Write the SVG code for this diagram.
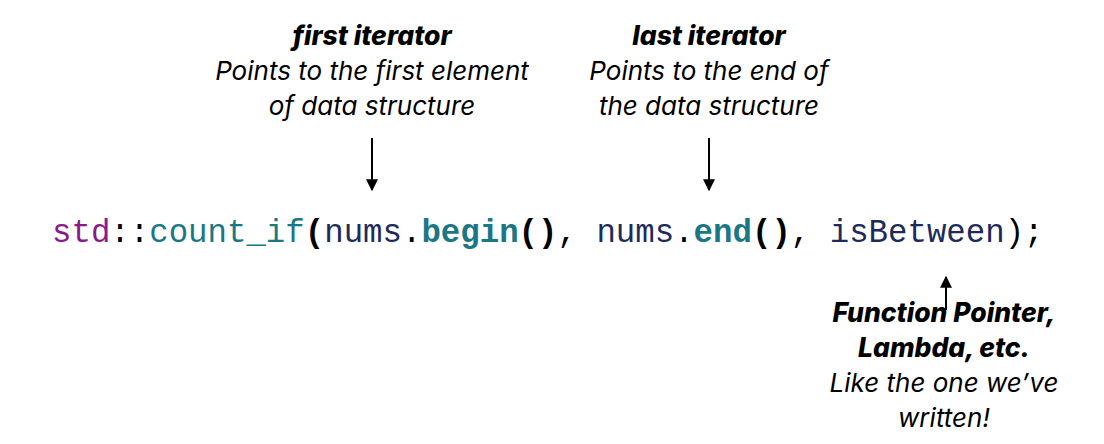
<svg xmlns="http://www.w3.org/2000/svg" width="1104" height="444" viewBox="0 0 1104 444">
<style>
.t{font-family:Inter,"Open Sans",sans-serif;font-size:26px;font-style:italic;fill:#000;text-anchor:middle}
.b{font-weight:800;font-size:26.5px}
.code{font-family:"Liberation Mono","Courier New",monospace;font-size:32.4px}
.ns{fill:#8a1a88}
.fn{fill:#1b7785}
.var{fill:#1d2b5c}
.p{fill:#000}
.bo{font-weight:700}
.arr{stroke:#000;stroke-width:2;fill:none;marker-end:url(#ah)}
</style>
<defs>
<marker id="ah" viewBox="0 0 10 10" refX="9" refY="5" markerWidth="6" markerHeight="6" orient="auto" markerUnits="strokeWidth">
<path d="M0,0 L10,5 L0,10 z" fill="#000"/>
</marker>
</defs>
<rect width="1104" height="444" fill="#fff"/>
<g id="code">
<text class="code" x="52" y="242" xml:space="preserve"><tspan class="ns">std</tspan><tspan class="p">::</tspan><tspan class="fn">count_if</tspan><tspan class="p bo">(</tspan><tspan class="var">nums</tspan><tspan class="p">.</tspan><tspan class="fn bo">begin</tspan><tspan class="p bo">()</tspan><tspan class="p">, </tspan><tspan class="var">nums</tspan><tspan class="p">.</tspan><tspan class="fn bo">end</tspan><tspan class="p bo">()</tspan><tspan class="p">, </tspan><tspan class="var">isBetween</tspan><tspan class="p">);</tspan></text>
</g>
<g id="first">
<text class="t b" x="372" y="45">first iterator</text>
<text class="t" x="372" y="80">Points to the first element</text>
<text class="t" x="372" y="115">of data structure</text>
</g>
<g id="last">
<text class="t b" x="709" y="45">last iterator</text>
<text class="t" x="709" y="80">Points to the end of</text>
<text class="t" x="709" y="115">the data structure</text>
</g>
<g id="func">
<text class="t b" x="944" y="322">Function Pointer,</text>
<text class="t b" x="944" y="357">Lambda, etc.</text>
<text class="t" x="944" y="392">Like the one we’ve</text>
<text class="t" x="944" y="427">written!</text>
</g>
<g id="connectors">
<line class="arr" x1="372" y1="138" x2="372" y2="190"/>
<line class="arr" x1="709" y1="138" x2="709" y2="190"/>
<line class="arr" x1="946" y1="310" x2="946" y2="277"/>
</g>
</svg>
